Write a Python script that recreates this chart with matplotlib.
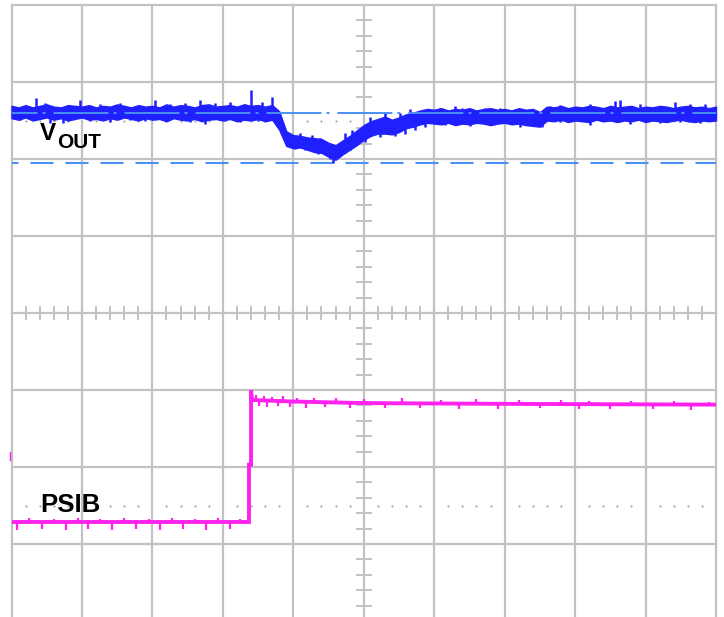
import matplotlib
matplotlib.use("Agg")
import matplotlib.pyplot as plt
import numpy as np

plt.rcParams['font.family'] = ['Liberation Sans', 'DejaVu Sans']
plt.rcParams['lines.scale_dashes'] = False

# ---------------- data (screen divisions) ----------------
vout_t = [0.0, 0.1, 0.2, 0.3, 0.4, 0.5, 0.6, 0.7, 0.8, 0.9,
          1.0, 1.1, 1.2, 1.3, 1.4, 1.5, 1.6, 1.7, 1.8, 1.9,
          2.0, 2.1, 2.2, 2.3, 2.4, 2.5, 2.6, 2.7, 2.8, 2.9,
          3.0, 3.1, 3.2, 3.3, 3.4, 3.5, 3.6, 3.7, 3.8, 3.9,
          4.0, 4.1, 4.2, 4.3, 4.4, 4.5, 4.6, 4.7, 4.8, 4.9,
          5.0, 5.1, 5.2, 5.3, 5.4, 5.5, 5.6, 5.7, 5.8, 5.9,
          6.0, 6.1, 6.2, 6.3, 6.4, 6.5, 6.6, 6.7, 6.8, 6.9,
          7.0, 7.1, 7.2, 7.3, 7.4, 7.5, 7.6, 7.7, 7.8, 7.9,
          8.0, 8.1, 8.2, 8.3, 8.4, 8.5, 8.6, 8.7, 8.8, 8.9,
          9.0, 9.1, 9.2, 9.3, 9.4, 9.5, 9.6, 9.7, 9.8, 9.9, 10.0]
vout_upper = [2.69, 2.67, 2.70, 2.67, 2.69, 2.71, 2.68, 2.67, 2.70, 2.69,
              2.68, 2.70, 2.67, 2.69, 2.68, 2.71, 2.69, 2.67, 2.70, 2.68,
              2.69, 2.67, 2.71, 2.68, 2.70, 2.69, 2.67, 2.70, 2.71, 2.68,
              2.69, 2.70, 2.68, 2.71, 2.69, 2.70, 2.68, 2.70, 2.62, 2.36,
              2.31, 2.30, 2.28, 2.27, 2.26, 2.21, 2.18, 2.24, 2.30, 2.37,
              2.44, 2.49, 2.52, 2.55, 2.51, 2.54, 2.58, 2.60, 2.63, 2.65,
              2.64, 2.66, 2.63, 2.65, 2.64, 2.66, 2.63, 2.65, 2.66, 2.64,
              2.65, 2.63, 2.66, 2.64, 2.65, 2.61, 2.68, 2.67, 2.69, 2.66,
              2.68, 2.67, 2.69, 2.68, 2.66, 2.69, 2.67, 2.68, 2.69, 2.66,
              2.68, 2.67, 2.69, 2.68, 2.66, 2.68, 2.69, 2.67, 2.68, 2.66, 2.68]
vout_lower = [2.53, 2.51, 2.54, 2.50, 2.52, 2.54, 2.51, 2.53, 2.50, 2.52,
              2.54, 2.51, 2.52, 2.50, 2.53, 2.51, 2.54, 2.52, 2.50, 2.53,
              2.51, 2.52, 2.49, 2.53, 2.51, 2.50, 2.52, 2.49, 2.51, 2.52,
              2.50, 2.52, 2.49, 2.51, 2.50, 2.52, 2.49, 2.51, 2.38, 2.17,
              2.14, 2.15, 2.12, 2.09, 2.08, 2.03, 1.99, 2.06, 2.12, 2.18,
              2.25, 2.30, 2.33, 2.33, 2.32, 2.35, 2.40, 2.42, 2.45, 2.47,
              2.46, 2.45, 2.47, 2.44, 2.46, 2.45, 2.47, 2.46, 2.44, 2.46,
              2.47, 2.45, 2.46, 2.44, 2.43, 2.42, 2.50, 2.49, 2.51, 2.48,
              2.50, 2.49, 2.48, 2.51, 2.49, 2.50, 2.48, 2.50, 2.49, 2.51,
              2.48, 2.50, 2.49, 2.48, 2.50, 2.51, 2.49, 2.48, 2.50, 2.49, 2.50]
vout_spike_t = [0.348, 0.476, 0.972, 1.256, 1.540, 2.037, 2.250, 2.463, 2.676, 2.889,
                3.101, 3.314, 3.400, 3.556, 3.698, 5.912, 6.082, 6.295, 6.395, 6.721,
                6.934, 7.147, 7.360, 7.644, 7.786, 8.212, 8.567, 8.638, 8.921, 9.418,
                9.631, 9.844,
                0.121, 0.546, 0.731, 1.114, 1.398, 1.682, 1.895, 2.534, 2.747, 3.030,
                3.243, 3.499, 4.564, 5.869, 6.153, 6.508, 6.792, 7.218, 7.431, 7.530,
                7.786, 8.212, 8.779, 9.205, 9.489, 9.773,
                4.095, 4.265, 4.379, 4.734, 4.833, 5.089, 5.302, 5.514, 5.656,
                4.024, 4.166, 4.351, 4.521, 4.663, 4.805, 5.018, 5.231, 5.443,
                5.585, 5.727]
vout_spike_v = [2.792, 2.727, 2.766, 2.714, 2.727, 2.766, 2.714, 2.727, 2.766, 2.727,
                2.740, 2.714, 2.896, 2.740, 2.805, 2.649, 2.662, 2.688, 2.662, 2.662,
                2.662, 2.649, 2.649, 2.688, 2.701, 2.714, 2.753, 2.766, 2.714, 2.740,
                2.714, 2.714,
                2.506, 2.468, 2.468, 2.494, 2.481, 2.506, 2.494, 2.481, 2.455, 2.494,
                2.481, 2.494, 1.950, 2.416, 2.442, 2.429, 2.442, 2.416, 2.429, 2.416,
                2.481, 2.442, 2.455, 2.468, 2.481, 2.468,
                2.338, 2.312, 2.273, 2.338, 2.377, 2.550, 2.610, 2.597, 2.649,
                2.130, 2.117, 2.065, 2.000, 2.039, 2.117, 2.221, 2.286, 2.299,
                2.325, 2.377]

vout_ref_level = 2.597      # dash-dot reference
vout_min_level = 1.948      # dashed limit
cursor_top = 2.494          # dotted cursor
cursor_bottom = -2.506      # dotted cursor

psib_t = [0.0, 3.371, 3.371, 3.40, 3.40, 3.414, 4.0, 5.0, 7.0, 10.0]
psib_v = [-2.714, -2.714, -1.97, -1.97, -1.00, -1.13, -1.15, -1.17, -1.18, -1.19]
psib_spike_t = [0.078, 0.433, 0.774, 1.086, 1.426, 1.767, 2.108, 2.434, 2.761, 3.101,
                0.25, 0.60, 0.95, 1.25, 1.60, 1.95, 2.28, 2.60, 2.93, 3.25,
                3.47, 3.52, 3.58, 3.63, 3.70, 3.78, 3.85, 3.95, 4.05, 4.18,
                4.30, 4.45, 4.60, 4.80, 5.00, 5.30, 5.55, 5.80, 6.10, 6.35,
                6.60, 6.90, 7.20, 7.50, 7.80, 8.05, 8.20, 8.50, 8.80, 9.10,
                9.40, 9.65, 9.90]
psib_spike_v = [-2.82, -2.81, -2.82, -2.80, -2.82, -2.81, -2.82, -2.80, -2.82, -2.81,
                -2.66, -2.67, -2.66, -2.67, -2.66, -2.67, -2.66, -2.67, -2.66, -2.67,
                -1.06, -1.21, -1.08, -1.22, -1.09, -1.21, -1.08, -1.22, -1.10, -1.23,
                -1.11, -1.22, -1.10, -1.24, -1.12, -1.23, -1.11, -1.24, -1.13, -1.25,
                -1.12, -1.25, -1.13, -1.24, -1.13, -1.25, -1.14, -1.25, -1.14, -1.25,
                -1.14, -1.26, -1.15]

# ---------------- figure ----------------
W, H = 724, 617
fig = plt.figure(figsize=(W / 100, H / 100), dpi=100)
left_px, right_px, top_px, bot_px = 11.5, 716.0, 5.0, 621.0
ax = fig.add_axes([left_px / W, (H - bot_px) / H, (right_px - left_px) / W, (bot_px - top_px) / H])
ax.set_xlim(0, 10)
ax.set_ylim(-4, 4)
ax.axis('off')

grid_c = '#c2c2c2'
for x in range(11):
    ax.axvline(x, color=grid_c, lw=1.6, clip_on=False, zorder=1)
for y in range(-4, 5):
    ax.axhline(y, color=grid_c, lw=1.6, clip_on=False, zorder=1)

# minor ticks on centre axes
for k in range(51):
    if k % 5:
        ax.plot([k * 0.2, k * 0.2], [-0.078, 0.078], color=grid_c, lw=1.4, zorder=1)
for k in range(41):
    if k % 5:
        yy = -4 + k * 0.2
        ax.plot([4.9, 5.1], [yy, yy], color=grid_c, lw=1.4, zorder=1)

# dotted cursors
dot_x = [k * 0.2 for k in range(51) if k % 5]
ax.scatter(dot_x, [cursor_bottom] * len(dot_x), s=2.5, color='#a8a8a8', zorder=1, linewidths=0)
ax.scatter(dot_x, [cursor_top] * len(dot_x), s=2.5, color='#a8a8a8', zorder=1, linewidths=0)

blue = '#2020ff'
light_blue = '#4a90f5'
magenta = '#ff22ee'

# VOUT trace
ax.fill_between(vout_t, vout_lower, vout_upper, color=blue, lw=1.0,
                edgecolor=blue, zorder=3, clip_on=False)
mid = (np.array(vout_upper) + np.array(vout_lower)) / 2
spike_base = np.interp(vout_spike_t, vout_t, mid)
ax.vlines(vout_spike_t, spike_base, vout_spike_v, color=blue, lw=1.8, zorder=3)

# reference lines
ax.plot([0, 10], [vout_ref_level] * 2, color=light_blue, lw=1.4, zorder=4,
        linestyle=(21.2, (39.6, 3.6, 2.2, 5.7)), dash_capstyle='butt')
ax.plot([0, 10], [vout_min_level] * 2, color=light_blue, lw=1.5, zorder=2,
        linestyle=(11.9, (16.6, 8.6)), dash_capstyle='butt')

# PSIB trace
ax.plot(psib_t, psib_v, color=magenta, lw=2.8, zorder=3, solid_joinstyle='miter')
psib_base = np.interp(psib_spike_t, psib_t[5:], psib_v[5:])
psib_base = np.where(np.array(psib_spike_t) < 3.371, -2.714, psib_base)
ax.vlines(psib_spike_t, psib_base, psib_spike_v, color=magenta, lw=1.6, zorder=3)
ax.plot([-0.02, -0.02], [-1.81, -1.91], color=magenta, lw=1.0, clip_on=False, zorder=3)

# labels
def fpx(x, y):
    return x / W, 1 - y / H

fig.text(*fpx(40, 140), 'V', fontsize=17.5, fontweight='bold', va='baseline', ha='left')
fig.text(*fpx(57, 148), 'OUT', fontsize=15, fontweight='bold', va='baseline', ha='left')
fig.text(*fpx(40, 512), 'PSIB', fontsize=18.5, fontweight='bold', va='baseline', ha='left')

fig.savefig('out.png', dpi=100, facecolor='white')
